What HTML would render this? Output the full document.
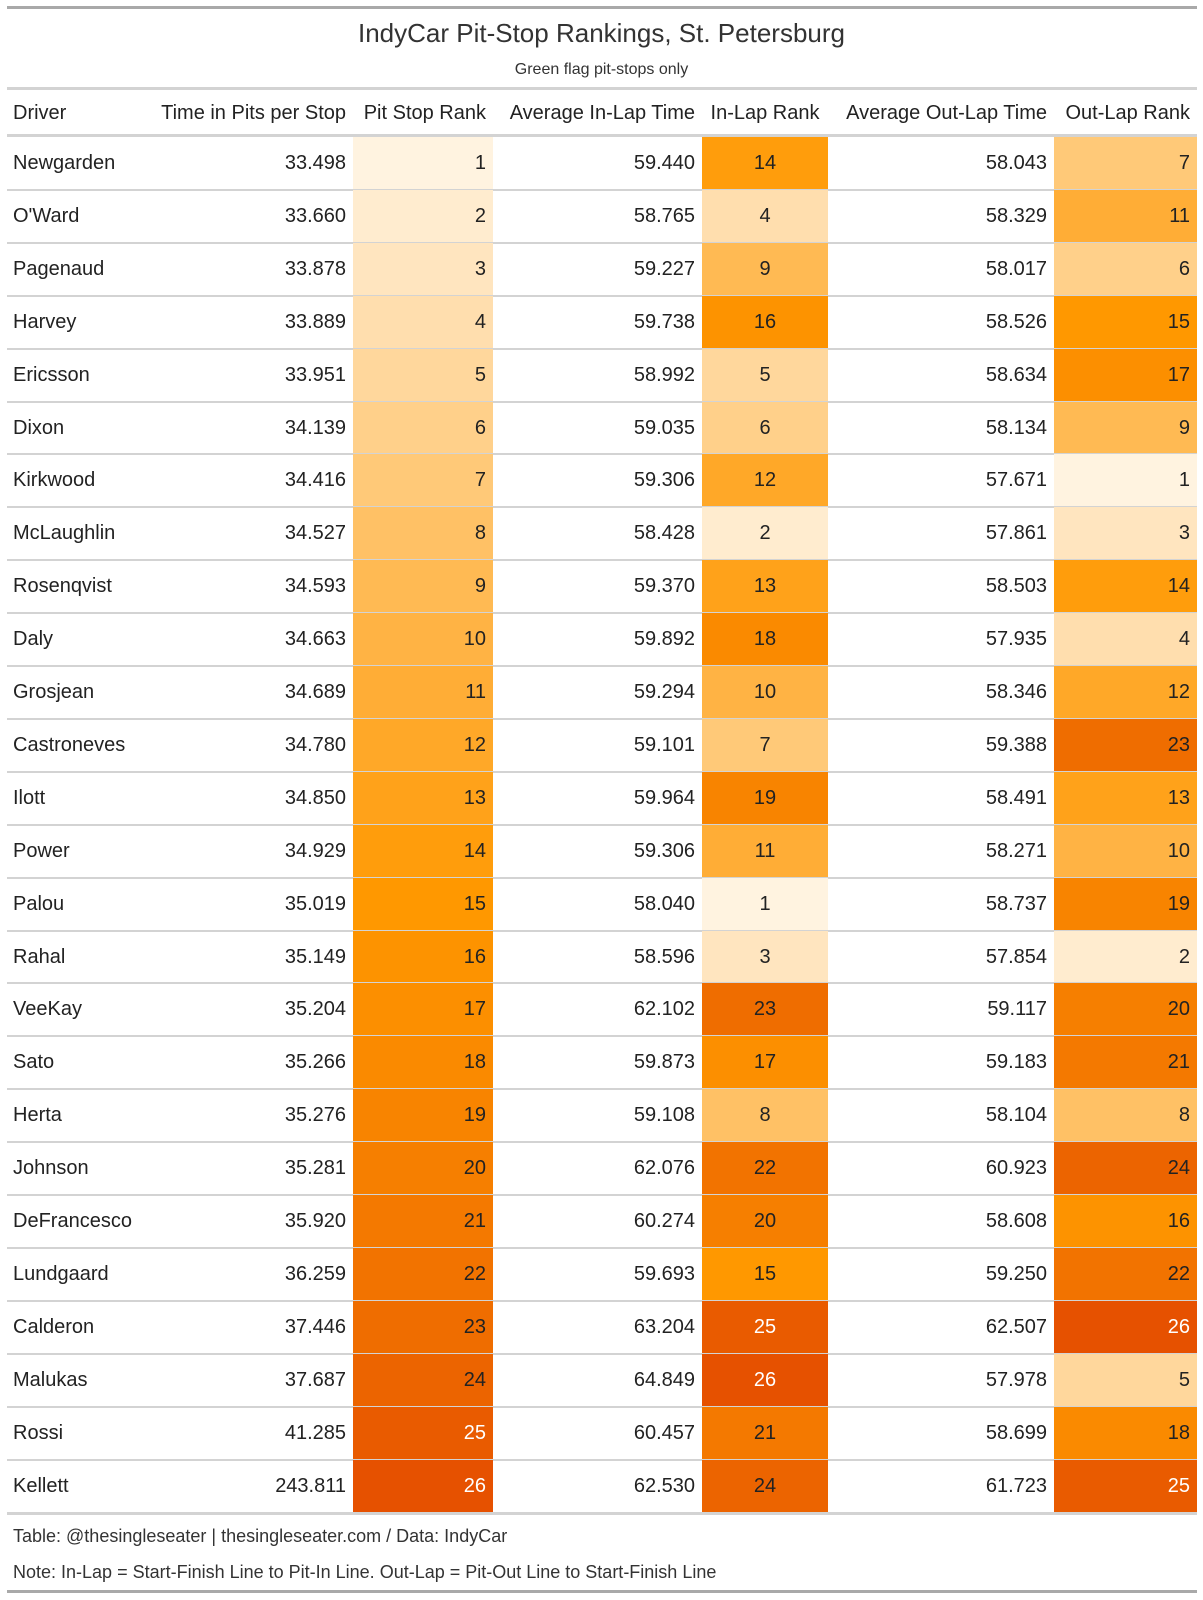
<!DOCTYPE html>
<html><head><meta charset="utf-8"><style>
body{margin:0;background:#fff;width:1203px;height:1600px;position:relative;overflow:hidden;font-family:"Liberation Sans",sans-serif;color:#222}
.a{position:absolute}
.cell{position:absolute;box-sizing:border-box;font-size:20px;line-height:53px;height:53px;white-space:nowrap}
.hl{position:absolute;left:7px;width:1190px}
</style></head><body>
<div class="hl" style="top:6px;height:3px;background:#a9a9a9"></div>
<div class="a" style="left:0;width:1203px;top:18px;text-align:center;font-size:26px;color:#333">IndyCar Pit-Stop Rankings, St. Petersburg</div>
<div class="a" style="left:0;width:1203px;top:61px;text-align:center;font-size:16px;color:#333">Green flag pit-stops only</div>
<div class="hl" style="top:87px;height:3px;background:#d3d3d3"></div>
<div id="tbl"></div>
<div class="hl" style="top:1512px;height:3px;background:#d3d3d3"></div>
<div class="a" style="left:13px;top:1526px;font-size:18px;color:#333">Table: @thesingleseater | thesingleseater.com / Data: IndyCar</div>
<div class="a" style="left:13px;top:1562px;font-size:18px;color:#333">Note: In-Lap = Start-Finish Line to Pit-In Line. Out-Lap = Pit-Out Line to Start-Finish Line</div>
<div class="hl" style="top:1590px;height:3px;background:#a9a9a9"></div>
<script>
const drivers=["Newgarden","O'Ward","Pagenaud","Harvey","Ericsson","Dixon","Kirkwood","McLaughlin","Rosenqvist","Daly","Grosjean","Castroneves","Ilott","Power","Palou","Rahal","VeeKay","Sato","Herta","Johnson","DeFrancesco","Lundgaard","Calderon","Malukas","Rossi","Kellett"];
const pitTime=["33.498","33.660","33.878","33.889","33.951","34.139","34.416","34.527","34.593","34.663","34.689","34.780","34.850","34.929","35.019","35.149","35.204","35.266","35.276","35.281","35.920","36.259","37.446","37.687","41.285","243.811"];
const pitRank=[1,2,3,4,5,6,7,8,9,10,11,12,13,14,15,16,17,18,19,20,21,22,23,24,25,26];
const inLap=["59.440","58.765","59.227","59.738","58.992","59.035","59.306","58.428","59.370","59.892","59.294","59.101","59.964","59.306","58.040","58.596","62.102","59.873","59.108","62.076","60.274","59.693","63.204","64.849","60.457","62.530"];
const inRank=[14,4,9,16,5,6,12,2,13,18,10,7,19,11,1,3,23,17,8,22,20,15,25,26,21,24];
const outLap=["58.043","58.329","58.017","58.526","58.634","58.134","57.671","57.861","58.503","57.935","58.346","59.388","58.491","58.271","58.737","57.854","59.117","59.183","58.104","60.923","58.608","59.250","62.507","57.978","58.699","61.723"];
const outRank=[7,11,6,15,17,9,1,3,14,4,12,23,13,10,19,2,20,21,8,24,16,22,26,5,18,25];
const headers=["Driver","Time in Pits per Stop","Pit Stop Rank","Average In-Lap Time","In-Lap Rank","Average Out-Lap Time","Out-Lap Rank"];
const colX=[7,130,353,493,702,828,1054,1197];
const align=["left","right","right","right","center","right","right"];
const stops=["#FFF3E0","#FFE0B2","#FFCC80","#FFB74D","#FFA726","#FF9800","#FB8C00","#F57C00","#EF6C00","#E65100"];
function hex(c){return [1,3,5].map(i=>parseInt(c.substr(i,2),16));}
function rankColor(r){const t=(r-1)/25*(stops.length-1);const i=Math.min(Math.floor(t),stops.length-2);const f=t-i;const a=hex(stops[i]),b=hex(stops[i+1]);return "rgb("+a.map((v,k)=>Math.round(v+(b[k]-v)*f)).join(",")+")";}
const tbl=document.getElementById('tbl');
const top0=137,rowH=52.9;
function mk(col,y,txt,name,bg,h){
 const d=document.createElement('div');d.className='cell';
 
 
 d.style.left=colX[col]+'px';d.style.width=(colX[col+1]-colX[col])+'px';d.style.top=y+'px';
 d.style.textAlign=align[col];d.style.padding=align[col]=='left'?'0 0 0 6px':(align[col]=='right'?'0 7px 0 0':'0');
 if(h){d.style.height=h+'px';d.style.lineHeight=h+'px';}
 if(bg)d.style.background=bg;
 d.textContent=txt;tbl.appendChild(d);return d;}
headers.forEach((h,i)=>{mk(i,90,h,'header-'+h.toLowerCase().replace(/[^a-z]+/g,'-'),null,46);});
const hb=document.createElement('div');hb.className='hl';hb.style.top='134px';hb.style.height='3px';hb.style.background='#d3d3d3';


tbl.appendChild(hb);
drivers.forEach((dr,i)=>{
 const y=top0+i*rowH;
 const vals=[dr,pitTime[i],pitRank[i],inLap[i],inRank[i],outLap[i],outRank[i]];
 const names=['driver-name','pit-time','pit-rank-cell','in-lap-time','in-lap-rank-cell','out-lap-time','out-lap-rank-cell'];
 vals.forEach((v,c)=>{
  const isRank=(c==2||c==4||c==6);
  const d=mk(c,y,String(v),names[c],isRank?rankColor(v):null,rowH+0.5);
  if(isRank&&v>=25)d.style.color='#fff';
 });
 if(i<drivers.length-1){const l=document.createElement('div');l.className='hl';l.style.top=(y+rowH-1)+'px';l.style.height='2px';l.style.background='#d3d3d3';
 
 
 tbl.appendChild(l);}
});
</script>
</body></html>
